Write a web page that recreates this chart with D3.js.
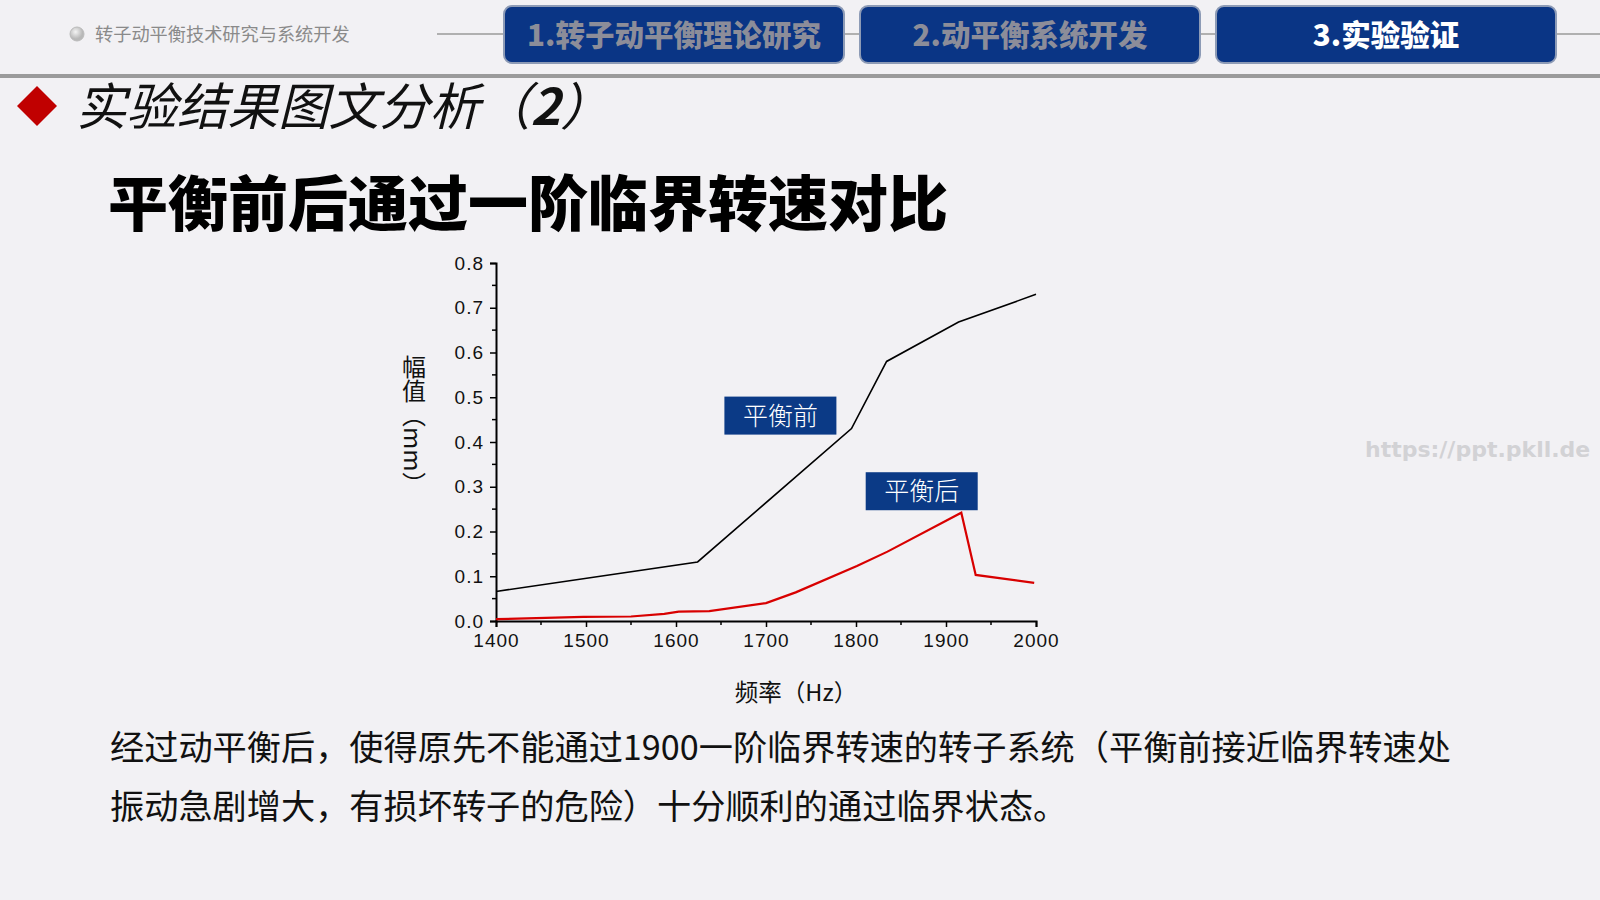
<!DOCTYPE html>
<html><head><meta charset="utf-8">
<script src="https://cdn.jsdelivr.net/npm/d3@7"></script>
<style>
html,body{margin:0;padding:0;background:#f2f1f4;}
svg{display:block;}
</style></head>
<body>
<script>
// ---- data ----
const freqBefore = [1400, 1624, 1795, 1834, 1914, 2000];
const ampBefore  = [0.066, 0.132, 0.430, 0.580, 0.668, 0.730];
const freqAfter  = [1400, 1497, 1550, 1587, 1603, 1637, 1700, 1733, 1801, 1835, 1917, 1933, 1998];
const ampAfter   = [0.004, 0.009, 0.010, 0.016, 0.021, 0.022, 0.040, 0.064, 0.123, 0.155, 0.242, 0.103, 0.085];
const xTicks = [1400, 1500, 1600, 1700, 1800, 1900, 2000];
const yTicks = [0.0, 0.1, 0.2, 0.3, 0.4, 0.5, 0.6, 0.7, 0.8];
const tabs = ["1.转子动平衡理论研究", "2.动平衡系统开发", "3.实验验证"];
const seriesLabels = ["平衡前", "平衡后"];
const seriesLabelAnchors = [[1716, 0.459], [1873, 0.290]];

const W = 1600, H = 900;
const svg = d3.select("body").append("svg").attr("width", W).attr("height", H);
svg.append("rect").attr("width", W).attr("height", H).attr("fill", "#f2f1f4");

const cjk = "'Noto Sans CJK SC','Noto Sans',sans-serif";

// ---- header ----
svg.append("line").attr("x1", 437).attr("x2", 1600).attr("y1", 34).attr("y2", 34)
  .attr("stroke", "#9a9a9a").attr("stroke-width", 1.5);
const grad = svg.append("defs").append("radialGradient").attr("id", "dot").attr("cx", "40%").attr("cy", "35%");
grad.append("stop").attr("offset", "0%").attr("stop-color", "#f4f4f4");
grad.append("stop").attr("offset", "100%").attr("stop-color", "#b8b8b8");
svg.append("circle").attr("cx", 77).attr("cy", 34).attr("r", 7).attr("fill", "url(#dot)").attr("stroke", "#bbb");
svg.append("text").attr("x", 95).attr("y", 41).attr("font-family", cjk).attr("font-size", 18.2)
  .attr("fill", "#8a8a8a").text("转子动平衡技术研究与系统开发");

const tabX = [504, 860, 1216];
const tabW = 340;
tabs.forEach((t, i) => {
  svg.append("rect").attr("x", tabX[i]).attr("y", 6).attr("width", tabW).attr("height", 57)
    .attr("rx", 8).attr("fill", "#0a3585").attr("stroke", "#8d9bb6").attr("stroke-width", 2);
  svg.append("text").attr("x", tabX[i] + tabW / 2).attr("y", 35).attr("dy", "0.36em")
    .attr("text-anchor", "middle").attr("font-family", cjk).attr("font-weight", 900)
    .attr("font-size", 29.5).attr("fill", i === 2 ? "#ffffff" : "#8c8d99").text(t);
});
svg.append("rect").attr("x", 0).attr("y", 74).attr("width", W).attr("height", 4).attr("fill", "#9b9b9b");

// ---- titles ----
svg.append("path").attr("d", "M37,86 L57,106 L37,126 L17,106 Z").attr("fill", "#c00000");
const t1 = svg.append("text").attr("x", 76).attr("y", 125).attr("font-family", cjk)
  .attr("font-size", 50.5).attr("font-style", "italic").attr("fill", "#111");
t1.append("tspan").text("实验结果图文分析（");
t1.append("tspan").attr("font-weight", "bold").text("2");
t1.append("tspan").text("）");

svg.append("text").attr("x", 108).attr("y", 226).attr("font-family", cjk).attr("font-weight", 900)
  .attr("font-size", 60).attr("fill", "#000").text("平衡前后通过一阶临界转速对比");

// ---- chart ----
const x = d3.scaleLinear().domain([1400, 2000]).range([496, 1036]);
const y = d3.scaleLinear().domain([0, 0.8]).range([621, 263]);
const tickFont = "'Liberation Sans',Arial,sans-serif";

const xMinor = d3.range(1450, 2000, 100);
const yMinor = d3.range(0.05, 0.8, 0.1);

const gx = svg.append("g").attr("transform", `translate(0,${y(0)})`);
gx.call(d3.axisBottom(x).tickValues(xTicks).tickFormat(d3.format("d")).tickSize(6).tickPadding(7));
gx.append("g").selectAll("line").data(xMinor).join("line")
  .attr("x1", d => x(d)).attr("x2", d => x(d)).attr("y1", 0).attr("y2", 4).attr("stroke", "#000").attr("stroke-width", 1.5);
const gy = svg.append("g").attr("transform", `translate(${x(1400)},0)`);
gy.call(d3.axisLeft(y).tickValues(yTicks).tickFormat(d3.format(".1f")).tickSize(6).tickPadding(6));
gy.append("g").selectAll("line").data(yMinor).join("line")
  .attr("y1", d => y(d)).attr("y2", d => y(d)).attr("x1", 0).attr("x2", -4).attr("stroke", "#000").attr("stroke-width", 1.5);
[gx, gy].forEach(g => {
  g.select(".domain").attr("stroke", "#000").attr("stroke-width", 2);
  g.selectAll(".tick line").attr("stroke", "#000").attr("stroke-width", 1.5);
  g.selectAll(".tick text").attr("font-family", tickFont).attr("font-size", 19)
    .attr("fill", "#111").attr("letter-spacing", 1);
});

const line = d3.line().x(d => x(d[0])).y(d => y(d[1]));
svg.append("path").datum(freqBefore.map((f, i) => [f, ampBefore[i]]))
  .attr("d", line).attr("fill", "none").attr("stroke", "#000").attr("stroke-width", 1.6);
svg.append("path").datum(freqAfter.map((f, i) => [f, ampAfter[i]]))
  .attr("d", line).attr("fill", "none").attr("stroke", "#d80000").attr("stroke-width", 2.2);

// series label boxes
seriesLabels.forEach((s, i) => {
  const cx = x(seriesLabelAnchors[i][0]), cy = y(seriesLabelAnchors[i][1]);
  svg.append("rect").attr("x", cx - 56).attr("y", cy - 19).attr("width", 112).attr("height", 38)
    .attr("fill", "#0b3a86");
  svg.append("text").attr("x", cx).attr("y", cy).attr("dy", "0.36em").attr("text-anchor", "middle")
    .attr("font-family", cjk).attr("font-weight", 300).attr("font-size", 25).attr("fill", "#fff").text(s);
});

// axis titles
svg.append("text").attr("x", 796).attr("y", 693).attr("dy", "0.36em").attr("text-anchor", "middle")
  .attr("font-family", cjk).attr("font-size", 23.5).attr("fill", "#111").text("频率（Hz）");
svg.append("text").attr("x", 414).attr("y", 355).attr("font-family", cjk).attr("font-size", 24)
  .attr("fill", "#111").style("writing-mode", "vertical-rl").text("幅值（mm）");

// ---- paragraph ----
const para = ["经过动平衡后，使得原先不能通过1900一阶临界转速的转子系统（平衡前接近临界转速处",
              "振动急剧增大，有损坏转子的危险）十分顺利的通过临界状态。"];
para.forEach((p, i) => {
  svg.append("text").attr("x", 110).attr("y", 748 + i * 59).attr("dy", "0.36em")
    .attr("font-family", cjk).attr("font-size", 34.2).attr("fill", "#111").text(p);
});

// watermark
svg.append("text").attr("x", 1365).attr("y", 449).attr("dy", "0.36em")
  .attr("font-family", "'DejaVu Sans',sans-serif").attr("font-weight", "bold").attr("font-size", 22)
  .attr("fill", "#d2d2d5").text("https://ppt.pkll.de");
</script>
</body></html>
